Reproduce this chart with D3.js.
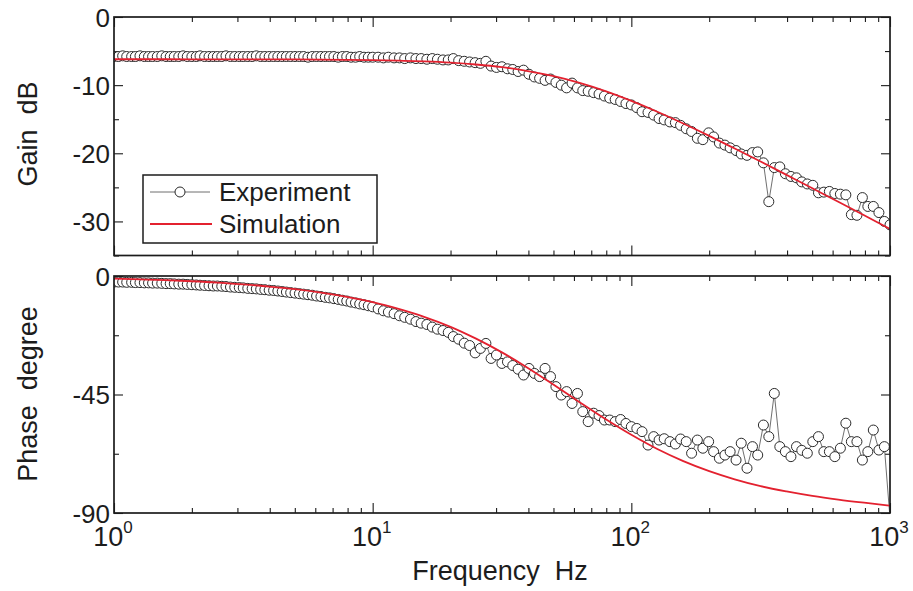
<!DOCTYPE html>
<html>
<head>
<meta charset="utf-8">
<script src="https://cdn.jsdelivr.net/npm/d3@7"></script>
<style>
  html, body { margin: 0; padding: 0; background: #fff; }
  svg { display: block; font-family: "Liberation Sans", Arial, Helvetica, sans-serif; }
</style>
</head>
<body>
<svg id="chart" width="913" height="591"></svg>
<script>
// measured frequencies (Hz)
const freqs = [
  1.00, 1.04, 1.08, 1.12, 1.17, 1.21, 1.26, 1.31, 1.36, 1.41,
  1.47, 1.53, 1.59, 1.65, 1.71, 1.78, 1.85, 1.92, 2.00, 2.08,
  2.15, 2.24, 2.33, 2.42, 2.51, 2.61, 2.71, 2.82, 2.93, 3.05,
  3.16, 3.29, 3.42, 3.55, 3.69, 3.83, 3.98, 4.14, 4.30, 4.47,
  4.64, 4.82, 5.01, 5.21, 5.41, 5.62, 5.84, 6.07, 6.31, 6.56,
  6.81, 7.08, 7.36, 7.64, 7.94, 8.25, 8.58, 8.91, 9.26, 9.62,
  10.0, 10.5, 11.0, 11.5, 12.1, 12.7, 13.3, 14.0, 14.7, 15.4,
  16.2, 17.0, 17.8, 18.7, 19.6, 20.5, 21.5, 22.6, 23.7, 24.9,
  26.1, 27.4, 28.7, 30.1, 31.6, 33.2, 34.8, 36.5, 38.3, 40.2,
  42.2, 44.2, 46.4, 48.7, 51.1, 53.6, 56.2, 59.0, 61.9, 64.9,
  68.1, 71.5, 75.0, 78.7, 82.5, 86.6, 90.9, 95.3,
  100, 105, 110, 116, 122, 128, 134, 141, 148, 155,
  163, 171, 180, 189, 199, 208, 219, 230, 241, 254,
  266, 280, 294, 308, 324, 340, 357, 375, 394, 414,
  435, 456, 479, 503, 529, 555, 583, 612, 643, 675,
  709, 745, 782, 821, 862, 906, 951, 1000
];

// experiment, gain (dB)
const gainExp = [
  -5.8, -5.8, -5.7, -5.8, -5.8, -5.8, -5.7, -5.8, -5.8, -5.8,
  -5.8, -5.7, -5.8, -5.8, -5.8, -5.8, -5.7, -5.8, -5.8, -5.8,
  -5.7, -5.8, -5.8, -5.8, -5.8, -5.8, -5.7, -5.8, -5.8, -5.8,
  -5.8, -5.8, -5.8, -5.7, -5.8, -5.8, -5.8, -5.8, -5.8, -5.8,
  -5.8, -5.8, -5.8, -5.8, -5.8, -5.9, -5.8, -5.8, -5.8, -5.8,
  -5.8, -5.8, -5.9, -5.8, -5.8, -5.9, -5.9, -5.8, -5.9, -5.9,
  -5.9, -5.9, -6.0, -5.9, -6.0, -6.0, -6.1, -6.0, -6.1, -6.1,
  -6.2, -6.1, -6.2, -6.3, -6.3, -6.1, -6.4, -6.5, -6.6, -6.7,
  -6.8, -6.5, -7.2, -7.4, -7.3, -7.6, -7.7, -8.0, -7.8, -8.4,
  -8.8, -9.0, -9.3, -9.1, -9.6, -10.0, -10.4, -9.7, -10.4, -10.8,
  -10.9, -11.1, -11.3, -11.6, -11.9, -12.1, -12.4, -12.7,
  -12.9, -13.3, -13.9, -14.0, -14.4, -14.9, -15.1, -15.4, -15.5, -15.9,
  -16.4, -16.8, -17.8, -18.0, -17.0, -17.6, -18.5, -18.8, -19.2, -19.6,
  -20.1, -20.3, -19.9, -19.8, -21.4, -27.1, -22.1, -22.0, -23.0, -23.4,
  -23.6, -24.2, -24.5, -24.7, -25.8, -25.7, -25.6, -25.9, -26.0, -26.1,
  -29.0, -29.1, -26.5, -27.8, -27.8, -28.7, -30.0, -30.5
];

// experiment, phase (degree)
const phaseExp = [
  -2.3, -2.3, -2.3, -2.4, -2.4, -2.5, -2.5, -2.6, -2.6, -2.7,
  -2.7, -2.8, -2.9, -2.9, -3.0, -3.1, -3.1, -3.2, -3.3, -3.4,
  -3.5, -3.6, -3.7, -3.8, -3.8, -3.9, -4.0, -4.2, -4.3, -4.4,
  -4.5, -4.7, -4.8, -4.9, -5.1, -5.2, -5.4, -5.5, -5.7, -5.9,
  -6.1, -6.3, -6.5, -6.7, -6.9, -7.1, -7.3, -7.6, -7.8, -8.1,
  -8.3, -8.6, -8.9, -9.2, -9.5, -9.9, -10.2, -10.6, -10.9, -11.3,
  -11.7, -12.5, -13.2, -13.7, -14.3, -15.1, -15.7, -16.4, -17.3, -17.9,
  -18.4, -19.4, -20.2, -20.7, -21.4, -23.0, -24.0, -25.5, -26.4, -29.2,
  -27.5, -25.6, -31.3, -30.0, -33.2, -32.6, -34.0, -35.4, -37.6, -35.1,
  -37.0, -38.2, -35.1, -38.2, -42.0, -45.2, -43.9, -48.4, -44.6, -51.5,
  -55.3, -52.1, -53.0, -54.7, -54.7, -55.3, -54.5, -56.0,
  -57.2, -57.9, -59.1, -64.2, -61.0, -62.3, -61.8, -62.9, -63.8, -61.9,
  -62.9, -67.3, -62.3, -65.4, -62.9, -66.7, -69.2, -68.0, -66.7, -69.9,
  -63.5, -73.0, -64.8, -68.0, -56.6, -61.0, -44.6, -64.8, -66.7, -68.6,
  -64.8, -66.2, -67.3, -62.9, -61.0, -66.7, -66.7, -68.6, -65.4, -55.9,
  -62.9, -62.9, -69.9, -66.7, -58.5, -66.1, -64.8, -92
];

// simulation
const simFreqs = [1, 1.26, 1.58, 2, 2.51, 3.16, 3.98, 5.01, 6.31, 7.94,
  10, 12.6, 15.8, 20, 25.1, 31.6, 39.8, 50.1, 63.1, 79.4,
  100, 126, 158, 200, 251, 316, 398, 501, 631, 794, 1000];
const gainSim = [-6.20, -6.20, -6.20, -6.21, -6.21, -6.21, -6.22, -6.23, -6.25, -6.28,
  -6.33, -6.41, -6.52, -6.70, -6.97, -7.36, -7.93, -8.69, -9.68, -10.88,
  -12.31, -13.90, -15.59, -17.44, -19.30, -21.21, -23.17, -25.13, -27.12, -29.10, -31.10];
const phaseSim = [-1.0, -1.3, -1.6, -2.0, -2.5, -3.2, -4.0, -5.0, -6.3, -7.9,
  -9.9, -12.5, -15.5, -19.3, -23.8, -29.0, -34.9, -41.3, -47.9, -54.3,
  -60.3, -65.7, -70.2, -74.1, -77.2, -79.8, -81.8, -83.5, -84.9, -86.1, -87.2];

// ticks
const decades = [1, 10, 100, 1000];
const decadeExp = ['0', '1', '2', '3'];
const minorX = [2, 3, 4, 5, 6, 7, 8, 9, 20, 30, 40, 50, 60, 70, 80, 90,
  200, 300, 400, 500, 600, 700, 800, 900];
const gainTicks = [0, -10, -20, -30];
const gainMinor = [-5, -15, -25, -35];
const phaseTicks = [0, -45, -90];
const phaseMinor = [-22.5, -67.5];

const svg = d3.select('#chart');
const ink = '#1c1c1c';
const left = 114, right = 890;

const x = d3.scaleLog().domain([1, 1000]).range([left, right]);
const yGain = d3.scaleLinear().domain([-35, 0]).range([255.5, 17]);
const yPhase = d3.scaleLinear().domain([-90, 0]).range([513, 276]);

function tickGroup(axis, transform) {
  const g = svg.append('g')
    .attr('transform', transform)
    .call(axis.tickSizeOuter(0));
  g.select('.domain').remove();
  g.selectAll('line').attr('stroke', ink).attr('stroke-width', 1.1);
  return g;
}

function drawPanel(id, y, majY, minY, expVals, simVals) {
  const top = y.range()[1];
  const bottom = y.range()[0];

  svg.append('clipPath').attr('id', id)
    .append('rect')
    .attr('x', left).attr('y', top)
    .attr('width', right - left).attr('height', bottom - top);

  // inward ticks on all four sides
  tickGroup(d3.axisBottom(x).tickValues(decades).tickSize(-10).tickFormat(''), `translate(0,${bottom})`);
  tickGroup(d3.axisBottom(x).tickValues(minorX).tickSize(-5).tickFormat(''), `translate(0,${bottom})`);
  tickGroup(d3.axisTop(x).tickValues(decades).tickSize(-10).tickFormat(''), `translate(0,${top})`);
  tickGroup(d3.axisTop(x).tickValues(minorX).tickSize(-5).tickFormat(''), `translate(0,${top})`);
  tickGroup(d3.axisRight(y).tickValues(majY).tickSize(-9).tickFormat(''), `translate(${right},0)`);
  tickGroup(d3.axisRight(y).tickValues(minY).tickSize(-5).tickFormat(''), `translate(${right},0)`);
  tickGroup(d3.axisLeft(y).tickValues(minY).tickSize(-5).tickFormat(''), `translate(${left},0)`);
  const yl = tickGroup(d3.axisLeft(y).tickValues(majY).tickSize(-9).tickPadding(4)
    .tickFormat((d) => String(d)), `translate(${left},0)`);
  yl.attr('font-family', null).attr('font-size', null);
  yl.selectAll('text')
    .attr('fill', ink)
    .style('font-size', '26px')
    .attr('dy', '0.36em');

  const pts = freqs.map((f, i) => ({ f: f, v: expVals[i] }));
  const data = svg.append('g').attr('clip-path', `url(#${id})`);

  data.append('path')
    .datum(pts)
    .attr('fill', 'none')
    .attr('stroke', '#4a4a4a')
    .attr('stroke-width', 0.8)
    .attr('d', d3.line().x((d) => x(d.f)).y((d) => y(d.v)));

  data.selectAll('circle')
    .data(pts)
    .join('circle')
    .attr('cx', (d) => x(d.f))
    .attr('cy', (d) => y(d.v))
    .attr('r', 5)
    .attr('fill', '#fff')
    .attr('stroke', '#2a2a2a')
    .attr('stroke-width', 1);

  const sim = simFreqs.map((f, i) => ({ f: f, v: simVals[i] }));
  data.append('path')
    .datum(sim)
    .attr('fill', 'none')
    .attr('stroke', '#e3212f')
    .attr('stroke-width', 1.8)
    .attr('d', d3.line().curve(d3.curveMonotoneX).x((d) => x(d.f)).y((d) => y(d.v)));

  svg.append('rect')
    .attr('x', left).attr('y', top)
    .attr('width', right - left).attr('height', bottom - top)
    .attr('fill', 'none')
    .attr('stroke', ink)
    .attr('stroke-width', 1.7);
}

drawPanel('clip-gain', yGain, gainTicks, gainMinor, gainExp, gainSim);
drawPanel('clip-phase', yPhase, phaseTicks, phaseMinor, phaseExp, phaseSim);

// x tick labels with superscript exponents
const xl = svg.append('g').attr('fill', ink);
decades.forEach((d, i) => {
  const t = xl.append('text')
    .attr('x', x(d) - 1)
    .attr('y', 546)
    .attr('text-anchor', 'middle')
    .style('font-size', '27px')
    .text('10');
  t.append('tspan')
    .attr('dy', -13)
    .style('font-size', '17px')
    .text(decadeExp[i]);
});

// axis titles
svg.append('text')
  .attr('x', 500).attr('y', 580)
  .attr('text-anchor', 'middle')
  .attr('fill', ink)
  .style('font-size', '27px')
  .text('Frequency\u00a0\u00a0Hz');

svg.append('text')
  .attr('transform', 'translate(37,134) rotate(-90)')
  .attr('text-anchor', 'middle')
  .attr('fill', ink)
  .style('font-size', '27px')
  .text('Gain\u00a0\u00a0dB');

svg.append('text')
  .attr('transform', 'translate(37,394) rotate(-90)')
  .attr('text-anchor', 'middle')
  .attr('fill', ink)
  .style('font-size', '27px')
  .text('Phase\u00a0\u00a0degree');

// legend
const lg = svg.append('g');
lg.append('rect')
  .attr('x', 143).attr('y', 175)
  .attr('width', 234).attr('height', 68)
  .attr('fill', '#fff')
  .attr('stroke', ink)
  .attr('stroke-width', 1.5);
lg.append('line')
  .attr('x1', 150).attr('x2', 210).attr('y1', 192).attr('y2', 192)
  .attr('stroke', '#4a4a4a').attr('stroke-width', 0.8);
lg.append('circle')
  .attr('cx', 180).attr('cy', 192).attr('r', 5)
  .attr('fill', '#fff').attr('stroke', '#2a2a2a').attr('stroke-width', 1);
lg.append('line')
  .attr('x1', 150).attr('x2', 212).attr('y1', 224).attr('y2', 224)
  .attr('stroke', '#e3212f').attr('stroke-width', 1.8);
lg.append('text')
  .attr('x', 219).attr('y', 200.5)
  .attr('fill', ink)
  .style('font-size', '26px')
  .text('Experiment');
lg.append('text')
  .attr('x', 219).attr('y', 233)
  .attr('fill', ink)
  .style('font-size', '26px')
  .text('Simulation');
</script>
</body>
</html>
